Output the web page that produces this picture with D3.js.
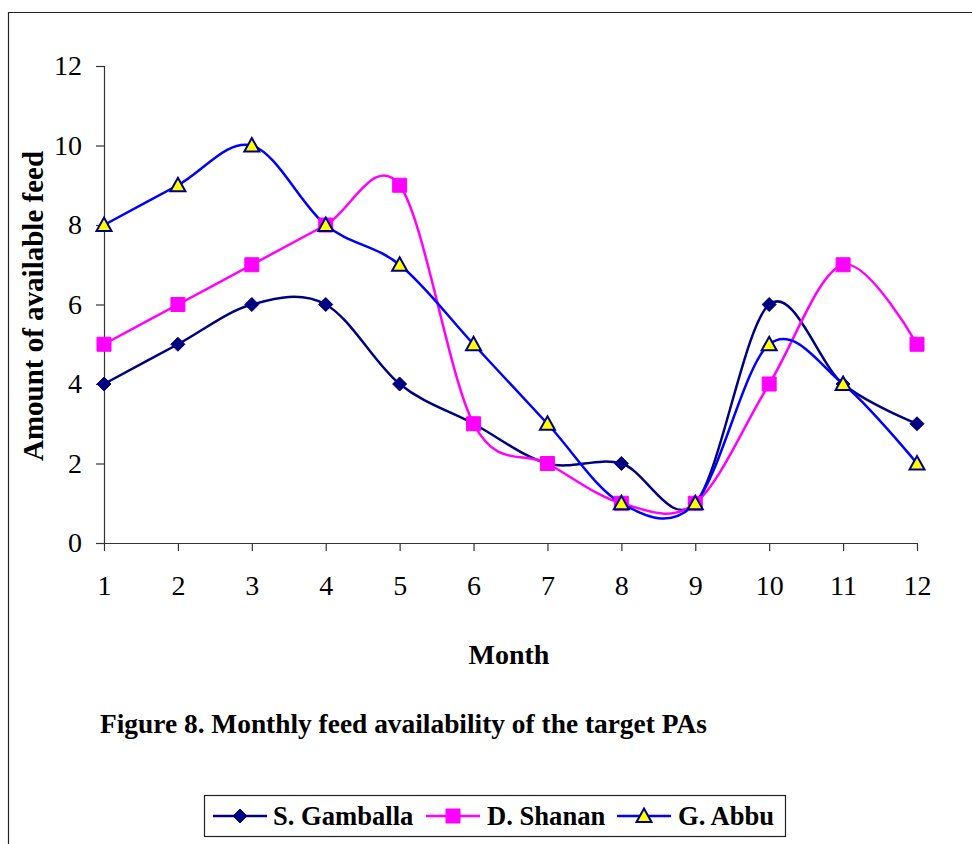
<!DOCTYPE html>
<html>
<head>
<meta charset="utf-8">
<script src="https://cdn.jsdelivr.net/npm/d3@7"></script>
<style>
  html, body { margin: 0; padding: 0; background: #fff; }
  svg { display: block; font-family: "Liberation Serif", "Times New Roman", serif; }
</style>
</head>
<body>
<svg id="chart" width="972" height="844"></svg>
<script>
// Monthly feed availability per PA
const months = [1, 2, 3, 4, 5, 6, 7, 8, 9, 10, 11, 12];
const gamballa = [4, 5, 6, 6, 4, 3, 2, 2, 1, 6, 4, 3];
const shanan   = [5, 6, 7, 8, 9, 3, 2, 1, 1, 4, 7, 5];
const abbu     = [8, 9, 10, 8, 7, 5, 3, 1, 1, 5, 4, 2];
const yTicks = [0, 2, 4, 6, 8, 10, 12];

const seriesNames = ["S. Gamballa", "D. Shanan", "G. Abbu"];
const seriesValues = [gamballa, shanan, abbu];
const seriesStyle = [
  { line: "#000080", marker: "diamond", fill: "#000080", stroke: "#000080" },
  { line: "#FF00FF", marker: "square", fill: "#FF00FF", stroke: "#FF00FF" },
  { line: "#0000FF", marker: "triangle", fill: "#FFFF00", stroke: "#000080" }
];

const svg = d3.select("#chart");

// outer frame
svg.append("path")
  .attr("d", "M8.5,860 V12.5 H980")
  .attr("fill", "none").attr("stroke", "#222").attr("stroke-width", 1.2);

const x = d3.scaleLinear().domain([1, 12]).range([104, 917]);
const y = d3.scaleLinear().domain([0, 12]).range([543, 66]);

// axes
const yAxis = d3.axisLeft(y).tickValues(yTicks).tickSize(8).tickPadding(14);
const gy = svg.append("g").attr("transform", "translate(104,0)").call(yAxis);
const xAxis = d3.axisBottom(x).tickValues(months).tickSize(8).tickPadding(24);
const gx = svg.append("g").attr("transform", "translate(0,543)").call(xAxis);
[gx, gy].forEach(g => {
  g.attr("font-family", null).attr("font-size", null);
  g.select(".domain").attr("stroke", "#333").attr("stroke-width", 1.2);
  g.selectAll(".tick line").attr("stroke", "#333").attr("stroke-width", 1.2);
  g.selectAll("text")
    .style("font-family", "'Liberation Serif', serif")
    .style("font-size", "28px").attr("fill", "#000");
});
gx.selectAll("text").attr("dy", null).attr("y", 595 - 543);
gx.select(".domain").attr("d", "M96,0.5H917");
gy.select(".domain").attr("d", "M0.5,543V66");

// titles
svg.append("text")
  .attr("transform", "translate(43,306) rotate(-90)")
  .attr("text-anchor", "middle")
  .style("font-size", "29px").attr("font-weight", "bold")
  .text("Amount of available feed");
svg.append("text")
  .attr("x", 509).attr("y", 664)
  .attr("text-anchor", "middle")
  .style("font-size", "28px").attr("font-weight", "bold")
  .text("Month");
svg.append("text")
  .attr("x", 100).attr("y", 733)
  .style("font-size", "27.4px").attr("font-weight", "bold")
  .text("Figure 8. Monthly feed availability of the target PAs");

// marker shapes
function markerPath(kind) {
  if (kind === "diamond") return "M0,-7L7,0L0,7L-7,0Z";
  if (kind === "square") return "M-7,-7H7V7H-7Z";
  return "M0,-7.5L7.5,6H-7.5Z";
}

const line = d3.line()
  .x((d, i) => x(months[i]))
  .y(d => y(d))
  .curve(d3.curveCatmullRom.alpha(0));

seriesValues.forEach((vals, s) => {
  const st = seriesStyle[s];
  svg.append("path")
    .datum(vals)
    .attr("d", line)
    .attr("fill", "none")
    .attr("stroke", st.line)
    .attr("stroke-width", 2.5);
});
seriesValues.forEach((vals, s) => {
  const st = seriesStyle[s];
  svg.append("g").selectAll("path")
    .data(vals)
    .join("path")
    .attr("transform", (d, i) => `translate(${x(months[i])},${y(d)})`)
    .attr("d", markerPath(st.marker))
    .attr("fill", st.fill)
    .attr("stroke", st.stroke)
    .attr("stroke-width", st.marker === "triangle" ? 2 : 1);
});

// legend
const lg = svg.append("g");
lg.append("rect").attr("x", 204.5).attr("y", 795.5).attr("width", 581).attr("height", 41)
  .attr("fill", "#fff").attr("stroke", "#222").attr("stroke-width", 1.2);
const legendX = [213, 426, 617];
const legendTextX = [273, 487, 678];
seriesNames.forEach((name, s) => {
  const st = seriesStyle[s];
  const g = lg.append("g");
  g.append("line").attr("x1", legendX[s]).attr("x2", legendX[s] + 54)
    .attr("y1", 816).attr("y2", 816)
    .attr("stroke", st.line).attr("stroke-width", 2.5);
  g.append("path").attr("transform", `translate(${legendX[s] + 27},816)`)
    .attr("d", markerPath(st.marker))
    .attr("fill", st.fill).attr("stroke", st.stroke)
    .attr("stroke-width", st.marker === "triangle" ? 2 : 1);
  g.append("text").attr("x", legendTextX[s]).attr("y", 825)
    .style("font-size", "26.6px").attr("font-weight", "bold")
    .text(name);
});
</script>
</body>
</html>
